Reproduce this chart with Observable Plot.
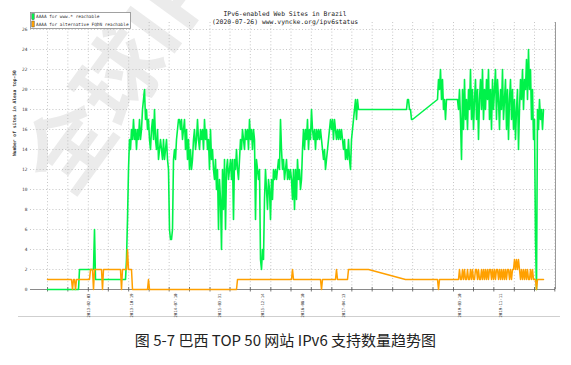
<!DOCTYPE html>
<html><head><meta charset="utf-8">
<script src="https://cdn.jsdelivr.net/npm/d3@7"></script>
<script src="https://cdn.jsdelivr.net/npm/@observablehq/plot@0.6"></script>
<style>
body{margin:0;background:#fff;}
#wrap{position:relative;width:571px;height:365px;overflow:hidden;background:#fff;}
#wm{position:absolute;left:-12px;top:140px;font-family:"Noto Sans CJK SC";font-weight:bold;font-size:86px;color:#ebebeb;transform:rotate(-54deg);transform-origin:0 0;white-space:nowrap;z-index:0;}
#chart{position:absolute;left:0;top:0;z-index:1;}
#over{position:absolute;left:0;top:0;z-index:2;}
#sep{position:absolute;left:18px;top:316px;width:542px;height:0;border-top:1.4px solid #cfcfcf;}
#cap{position:absolute;left:0;width:571px;top:329px;text-align:center;font-family:"Noto Sans CJK SC";font-size:15px;color:#222;}
</style></head><body>
<div id="wrap">
<div id="wm">全球IPv6</div>
<div id="chart"></div>
<svg id="over" width="571" height="40"></svg>
<div id="sep"></div>
<div id="cap">图 5-7 巴西 TOP 50 网站 IPv6 支持数量趋势图</div>
</div>
<script>
const titleLines = ["IPv6-enabled Web Sites in Brazil", "(2020-07-26) www.vyncke.org/ipv6status"];
const seriesNames = ["AAAA for www.* reachable", "AAAA for alternative FQDN reachable"];
const seriesColors = ["#00f24a", "#ffa000"];
const yTitle = "Number of sites in Alexa top-50";
const startDate = "2012-06-02";
const sampleDays = 6;
const xDomain = ["2012-02-21", "2020-10-06"];
const yTicks = [0,2,4,6,8,10,12,14,16,18,20,22,24,26];
const xTickLabels = ["2013-02-03","2013-10-19","2014-07-10","2015-03-31","2015-12-14","2016-08-10","2017-04-13","2019-03-10","2019-11-11"];

// green series: segments [first day offset, values every sampleDays]
const greenSegA = [
 0,0,0,0,0,0,0,0,0,0, 0,0,0,0,0,0,0,0,0,0, 0,0,0,0,0,0,0,0,0,0, 0,0,
 2,2,2,2,2,2,2,2,2,2, 2,2,2,2,2,
 6,
 1,1,1,1,1,1,1,1,1,1, 1,1,1,1,1,1,1,1,1,1, 1,1,1,1,1,1,1,1,1,1, 1,
 3,7,12,15,14,16,15,17,15,16,
 14,16,15,17,15,16,18,19,20,17,
 18,16,17,15,14,16,17,15,18,15,
 14,16,13,14,15,14,13,15,13,14,
 15,13,12,6,5,5,6,13,14,13,
 15,16,17,17,16,17,15,16,17,14,
 16,13,15,12,14,12,13,15,16,14,
 15,17,15,14,16,15,16,14,17,15,
 16,14,15,12,16,13,14,12,11,13,
 10,12,6,11,9,4,12,8,13,6,
 12,13,11,12,13,11,13,7,13,12,
 14,12,11,13,15,14,16,15,14,16,
 15,16,14,17,15,16,14,16,15,7,
 13,12,11,12,3,2,4,3,9,12,
 10,8,11,10,7,11,9,12,11,12,
 11,12,13,12,17,14,12,13,11,12,
 13,11,12,11,12,11,9,12,8,12,
 9,13,11,12,10,11,14,16,14,16,
 15,17,14,16,15,18,16,15,16,14,
 16,15,16,15,16,15,14,13,14,12,
 13,14,15,16,17,16,17,15,17,16,
 15,16,15,16,15,16,15,14,15,13,
 14,13,15,13,12,15,16,17,18,19,
 17,19,18,18,18];
const greenSegB = [18,18,19,19,18,18,17,17];
const greenSegC = [19,21,20,22,19,21,18,19,17,19];
const greenSegD = [
 19,18,20,17,13,20,16,21,17,19,
 16,20,18,22,17,20,16,19,21,17,
 20,15,19,21,18,22,17,20,18,21,
 19,22,17,20,16,21,18,20,22,17,
 21,19,16,20,18,22,17,19,21,16,
 20,15,19,21,17,20,16,19,15,18,
 20,14,18,21,19,22,18,21,20,23,
 19,24,20,22,17,20,15,17,5,0,
 18,16,19,17,18,16,18];
const greenSegStarts = [0, 2148, 2340, 2460];

// orange series: sparse [day offset, value] then a regular segment
const orangeDays = [0,144,150,156,162,168,174,252,258,270,276,282,324,330,336,438,444,450,474,480,486,504,510,600,606,612,1134,1140,1464,1470,1476,1638,1644,1650,1728,1734,1740,1800,1806,1926,2148,2340,2346,2352,2466];
const orangeVals = [1,1,0,1,1,0,1,1,2,2,0,2,2,0,2,2,0,2,2,4,2,2,0,0,1,0,0,1,1,2,1,1,0,1,1,2,1,1,2,2,1,1,0,1,1];
const orangeSegStart = 2472;
const orangeSeg = [
 2,1,1,2,1,2,1,1,2,1, 1,2,1,2,1,1,2,2,1,2,
 1,1,2,1,2,1,2,1,2,1, 2,2,1,2,1,2,1,2,2,1,
 2,1,2,1,2,1,2,1,2,2, 1,2,1,2,2,3,2,3,2,3,
 2,1,2,1,2,1,2,1,2,1, 1,2,1,2,1,1,1,0,1,1,
 1,1,1,1,1];

const t0 = new Date(startDate);
const dayDate = d => d3.utcDay.offset(t0, d);
const green = [];
[greenSegA, greenSegB, greenSegC, greenSegD].forEach((seg, s) => {
  seg.forEach((v, i) => green.push({date: dayDate(greenSegStarts[s] + i * sampleDays), v}));
});
const orange = orangeDays.map((d, i) => ({date: dayDate(d), v: orangeVals[i]}));
orangeSeg.forEach((v, i) => orange.push({date: dayDate(orangeSegStart + i * sampleDays), v}));

const xd = xDomain.map(s => new Date(s));
const gridDates = d3.range(0, 26).map(k => d3.utcMonth.offset(t0, 4 * k)).filter(d => d <= xd[1]);
const mono = "DejaVu Sans Mono";

const chart = Plot.plot({
  width: 571, height: 318,
  marginLeft: 30, marginRight: 16, marginTop: 22, marginBottom: 29,
  x: {type: "utc", domain: xd, axis: null},
  y: {domain: [0, 26.7], axis: null},
  style: {background: "transparent", overflow: "visible"},
  marks: [
    Plot.ruleY(yTicks.filter(d => d > 0), {stroke: "#b8b8b8", strokeDasharray: "1,2.2", strokeWidth: 0.8}),
    Plot.ruleX(gridDates, {x: d => d, stroke: "#b8b8b8", strokeDasharray: "1,2.2", strokeWidth: 0.8}),
    Plot.ruleY([0], {stroke: "#8a8a8a", strokeWidth: 1}),
    Plot.ruleX([xd[1]], {stroke: "#9a9a9a", strokeWidth: 1}),
    Plot.ruleX(gridDates, {x: d => d, y1: -0.25, y2: 0.2, stroke: "#555", strokeWidth: 0.8}),
    Plot.text(xTickLabels, {x: d => new Date(d), text: d => d, rotate: -90, textAnchor: "end", lineAnchor: "middle", frameAnchor: "bottom", dy: 4, fontSize: 4, fontFamily: mono, fill: "#333"}),
    Plot.text(yTicks, {y: d => d, text: d => String(d), frameAnchor: "left", dx: -3, textAnchor: "end", fontSize: 4.5, fontFamily: mono, fill: "#444"}),
    Plot.text([yTitle], {text: d => d, frameAnchor: "left", rotate: -90, dx: -16, fontSize: 4.6, fontWeight: "bold", fontFamily: mono, fill: "#333"}),
    Plot.line(green, {x: "date", y: "v", stroke: seriesColors[0], strokeWidth: 1.6}),
    Plot.line(orange, {x: "date", y: "v", stroke: seriesColors[1], strokeWidth: 1.5})
  ]
});
document.getElementById("chart").appendChild(chart);

const over = d3.select("#over");
over.selectAll("text.title").data(titleLines).join("text")
  .attr("x", 285).attr("y", (d, i) => 14 + i * 7.7).attr("dy", "0.35em")
  .attr("text-anchor", "middle").attr("font-family", mono).attr("font-size", 6.4)
  .attr("fill", "#222").text(d => d);
const lg = over.append("g");
lg.append("rect").attr("x", 30.5).attr("y", 12.5).attr("width", 100).attr("height", 16)
  .attr("fill", "#fff").attr("stroke", "#8a8a8a").attr("stroke-width", 0.8);
seriesNames.forEach((name, i) => {
  lg.append("rect").attr("x", 31.8).attr("y", 13.6 + i * 7.4).attr("width", 2.4).attr("height", 6)
    .attr("fill", seriesColors[i]).attr("stroke", "#333").attr("stroke-width", 0.4);
  lg.append("text").attr("x", 36).attr("y", 16.5 + i * 7.8).attr("dy", "0.35em")
    .attr("font-family", mono).attr("font-size", 4.4).attr("fill", "#333").text(name);
});
</script>
</body></html>
